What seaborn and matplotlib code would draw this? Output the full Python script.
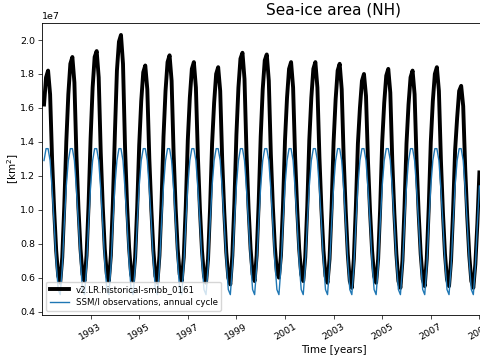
import numpy as np
import pandas as pd
import matplotlib
matplotlib.use("Agg")
import matplotlib.pyplot as plt
import seaborn as sns

# Model sea-ice area, monthly values (units of 1e7 km^2), Jan..Dec for each year
years = list(range(1991, 2009))
model_monthly = [
    [1.62, 1.78, 1.82, 1.68, 1.29, 1.00, 0.76, 0.61, 0.57, 0.72, 1.02, 1.40],
    [1.68, 1.86, 1.90, 1.75, 1.32, 1.01, 0.77, 0.62, 0.58, 0.73, 1.03, 1.42],
    [1.72, 1.90, 1.935, 1.78, 1.34, 1.02, 0.77, 0.62, 0.58, 0.73, 1.04, 1.45],
    [1.82, 1.99, 2.03, 1.86, 1.37, 1.03, 0.78, 0.62, 0.58, 0.72, 1.01, 1.38],
    [1.64, 1.81, 1.85, 1.71, 1.30, 1.00, 0.76, 0.61, 0.57, 0.73, 1.03, 1.43],
    [1.70, 1.87, 1.91, 1.76, 1.33, 1.01, 0.77, 0.62, 0.58, 0.72, 1.02, 1.41],
    [1.66, 1.83, 1.87, 1.72, 1.31, 1.00, 0.76, 0.61, 0.57, 0.71, 1.01, 1.39],
    [1.63, 1.80, 1.84, 1.70, 1.29, 0.99, 0.75, 0.60, 0.56, 0.73, 1.04, 1.44],
    [1.72, 1.89, 1.925, 1.77, 1.33, 1.01, 0.77, 0.62, 0.58, 0.73, 1.04, 1.43],
    [1.71, 1.88, 1.915, 1.76, 1.33, 1.02, 0.78, 0.63, 0.60, 0.73, 1.02, 1.41],
    [1.66, 1.83, 1.87, 1.72, 1.31, 1.01, 0.77, 0.62, 0.58, 0.72, 1.02, 1.41],
    [1.66, 1.83, 1.87, 1.72, 1.31, 1.00, 0.76, 0.61, 0.57, 0.71, 1.01, 1.40],
    [1.65, 1.82, 1.86, 1.71, 1.30, 0.99, 0.74, 0.58, 0.54, 0.71, 1.02, 1.39],
    [1.60, 1.76, 1.80, 1.67, 1.28, 0.99, 0.76, 0.61, 0.57, 0.71, 1.01, 1.40],
    [1.63, 1.79, 1.83, 1.69, 1.28, 0.98, 0.74, 0.58, 0.54, 0.70, 1.01, 1.39],
    [1.62, 1.78, 1.82, 1.68, 1.28, 0.98, 0.74, 0.59, 0.55, 0.71, 1.02, 1.40],
    [1.64, 1.80, 1.84, 1.70, 1.29, 0.98, 0.74, 0.59, 0.55, 0.70, 0.99, 1.35],
    [1.54, 1.70, 1.73, 1.61, 1.24, 0.96, 0.73, 0.58, 0.54, 0.68, 0.92, 1.22],
]

# SSM/I observed climatology (annual cycle), Jan..Dec
obs_cycle = [1.29, 1.36, 1.36, 1.29, 1.12, 0.92, 0.69, 0.53, 0.50, 0.66, 0.92, 1.14]

tick_years = [1993, 1995, 1997, 1999, 2001, 2003, 2005, 2007, 2009, 2011, 2013]

# time stamps at the end of each month
t, model, obs = [], [], []
for y, row in zip(years, model_monthly):
    for m in range(12):
        t.append(y + (m + 1) / 12)
        model.append(row[m] * 1e7)
        obs.append(obs_cycle[m] * 1e7)

df = pd.DataFrame({"time": t, "model": model, "obs": obs})

plt.rcParams.update({
    "font.size": 6.8,
    "axes.linewidth": 0.6,
    "xtick.major.size": 2.6,
    "ytick.major.size": 2.6,
    "xtick.major.width": 0.5,
    "ytick.major.width": 0.5,
    "xtick.major.pad": 2.5,
    "ytick.major.pad": 2.5,
})

fig = plt.figure(figsize=(4.8, 3.6), dpi=100)
# the original axes runs past the right edge of the image
ax = fig.add_axes([0.0875, 0.125, 1.215, 0.811])

sns.lineplot(data=df, x="time", y="model", ax=ax, color="black", linewidth=2.8,
             label="v2.LR.historical-smbb_0161")
sns.lineplot(data=df, x="time", y="obs", ax=ax, color="#1f77b4", linewidth=1.0,
             label="SSM/I observations, annual cycle")

ax.set_xlim(1991, 2015)
ax.set_ylim(0.38e7, 2.1e7)
ax.set_xticks(tick_years)
ax.set_xticklabels([str(y) for y in tick_years], rotation=30)
ax.set_yticks(np.arange(0.4e7, 2.01e7, 0.2e7))
ax.tick_params(labelsize=6.8)
ax.set_xlabel("Time [years]", fontsize=7.5, labelpad=2)
ax.set_ylabel("[km$^2$]", fontsize=7.5)
ax.yaxis.set_label_coords(-0.036, 0.5)
ax.set_title("Sea-ice area (NH)", fontsize=11)
ax.legend(loc="lower left", fontsize=6.2, handlelength=2.2)

fig.savefig("out.png", dpi=100)
